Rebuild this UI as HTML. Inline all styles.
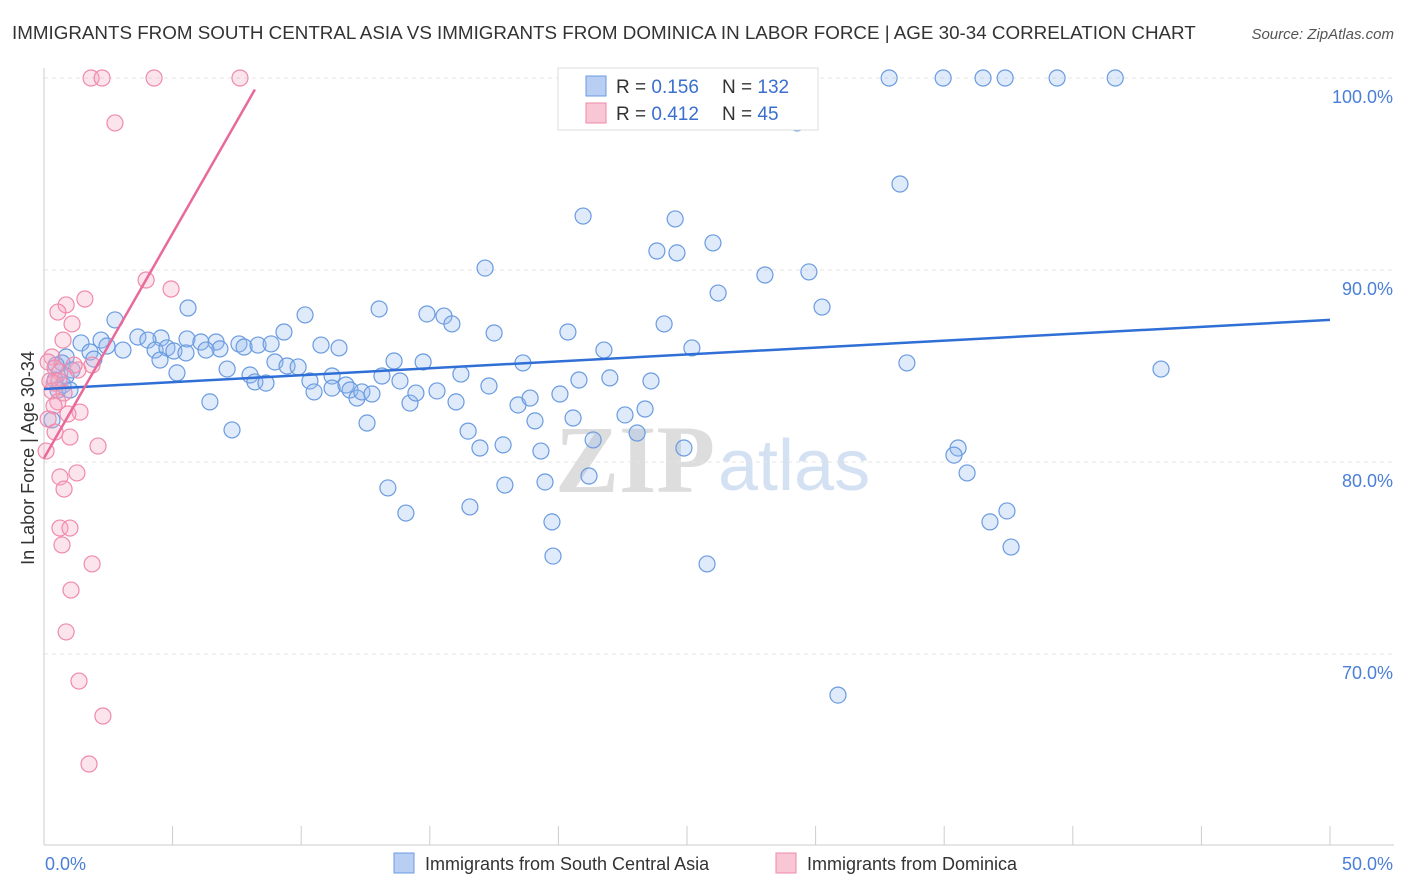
<!DOCTYPE html>
<html><head><meta charset="utf-8"><style>
body{margin:0;background:#fff;font-family:"Liberation Sans",sans-serif;}
#wrap{position:relative;width:1406px;height:892px;overflow:hidden;}
</style></head><body>
<div id="wrap">
<svg id="svg" width="1406" height="892" xmlns="http://www.w3.org/2000/svg">
<text x="12" y="39" font-size="18.8" fill="#333">IMMIGRANTS FROM SOUTH CENTRAL ASIA VS IMMIGRANTS FROM DOMINICA IN LABOR FORCE | AGE 30-34 CORRELATION CHART</text>
<text x="1394" y="39" font-size="15" fill="#555" font-style="italic" text-anchor="end">Source: ZipAtlas.com</text>
<text x="34" y="458" font-size="18" fill="#333" text-anchor="middle" transform="rotate(-90 34 458)">In Labor Force | Age 30-34</text>
<text x="555" y="492" font-size="96" fill="#ddd" font-family="Liberation Serif,serif" font-weight="bold">ZIP</text>
<text x="718" y="490" font-size="72" fill="#d4e1f3">atlas</text>
<g id="grid"></g><g id="pts"></g><g id="lines"></g>
<g>
<rect x="558" y="68" width="260" height="62" fill="#fff" stroke="#ddd"/>
<rect x="586" y="76" width="20" height="20" fill="#b8cff3" stroke="#6a9be0"/>
<rect x="586" y="103" width="20" height="20" fill="#f9c6d5" stroke="#f08aaa"/>
<text x="616" y="93" font-size="19" fill="#333">R = <tspan fill="#3a6fcf">0.156</tspan></text>
<text x="722" y="93" font-size="19" fill="#333">N = <tspan fill="#3a6fcf">132</tspan></text>
<text x="616" y="120" font-size="19" fill="#333">R = <tspan fill="#3a6fcf">0.412</tspan></text>
<text x="722" y="120" font-size="19" fill="#333">N = <tspan fill="#3a6fcf"> 45</tspan></text>
</g>
<g>
<rect x="394" y="853" width="20" height="20" fill="#b8cff3" stroke="#6a9be0"/>
<text x="425" y="870" font-size="18" fill="#333">Immigrants from South Central Asia</text>
<rect x="776" y="853" width="20" height="20" fill="#f9c6d5" stroke="#f08aaa"/>
<text x="807" y="870" font-size="18" fill="#333">Immigrants from Dominica</text>
</g>
</svg>
</div>
<script>
const xTickVals=[0,5,10,15,20,25,30,35,40,45,50];
const yTickVals=[70,80,90,100];
const blueX=[29.28,32.86,34.96,36.51,37.37,39.39,41.65,33.28,20.96,24.54,26.01,23.83,24.61,17.15,28.03,29.74,26.21,30.25,5.6,13.03,14.89,15.55,10.15,15.86,24.11,2.76,17.5,20.37,9.33,25.19,21.77,33.55,43.43,3.65,4.55,4.04,5.56,2.22,1.44,2.45,3.07,4.32,4.78,5.05,6.1,6.69,6.84,7.58,7.78,8.32,8.83,6.3,5.52,4.51,8.98,9.45,9.88,7.12,8.01,8.2,8.63,5.17,1.79,1.94,0.86,0.7,1.09,0.86,0.43,0.74,0.54,10.77,11.47,10.34,10.5,11.2,11.2,11.74,11.9,12.17,12.36,12.75,13.61,14.74,13.14,13.84,16.21,17.3,18.62,20.8,22.0,23.6,14.23,14.46,15.28,16.02,18.43,18.9,20.06,19.09,20.57,22.59,23.37,12.56,7.31,6.45,16.49,16.95,17.85,19.32,21.35,23.06,24.88,13.37,14.07,16.56,17.92,19.48,21.19,19.75,19.79,25.78,35.54,35.38,35.89,36.78,37.44,37.6,30.87,0.47,0.31,1.01];
const blueY=[97.66,100,100,100,100,100,100,94.48,92.81,92.66,91.41,90.99,90.89,90.10,89.74,89.90,88.80,88.07,88.02,87.97,87.71,87.60,87.66,87.19,87.19,87.40,86.72,86.77,86.77,85.94,85.83,85.16,84.84,86.51,86.46,86.35,86.41,86.35,86.20,86.04,85.83,85.83,85.94,85.78,86.25,86.25,85.89,86.15,85.99,86.09,86.15,85.83,85.68,85.31,85.21,85.0,84.95,84.84,84.53,84.17,84.11,84.64,85.73,85.36,85.47,85.16,84.79,84.48,84.27,84.01,83.75,86.09,85.94,84.22,83.65,84.48,83.85,84.01,83.75,83.33,83.65,83.54,85.26,85.21,84.48,84.22,84.58,83.96,85.16,84.27,84.38,84.22,83.07,83.59,83.70,83.13,82.97,83.33,83.54,82.14,82.29,82.45,82.76,82.03,81.67,83.13,81.61,80.73,80.89,80.57,81.15,81.51,80.73,78.65,77.34,77.66,78.80,78.96,79.27,76.88,75.10,74.69,80.73,80.36,79.43,76.88,77.45,75.57,67.86,85.05,82.19,83.75];
const pinkX=[1.83,2.26,4.28,7.62,2.76,3.97,4.94,1.59,0.86,0.54,1.09,0.74,0.31,0.16,0.43,0.62,1.32,0.39,0.31,0.78,0.54,0.39,1.4,0.93,0.43,1.01,2.1,1.28,0.62,0.78,0.62,1.01,0.7,1.87,1.05,0.86,1.36,2.29,1.75,0.16,0.23,0.58,1.87,1.17,0.08];
const pinkY=[100,100,100,100,97.66,89.48,89.01,88.49,88.18,87.81,87.19,86.35,85.47,85.21,84.9,84.69,84.79,84.11,83.7,83.59,83.13,82.92,82.6,82.5,81.56,81.3,80.83,79.43,79.22,78.59,76.56,76.56,75.68,74.69,73.33,71.15,68.59,66.77,64.27,82.24,84.22,84.22,85.05,85.05,80.57];
const blueLine=[[0,83.8],[50,87.4]];
const pinkLine=[[0,80.2],[8.2,99.4]];
const X=v=>44+v/50*1286, Y=v=>78+(100-v)*19.2;
const NS='http://www.w3.org/2000/svg';
function mk(t,a,p){const e=document.createElementNS(NS,t);for(const k in a)e.setAttribute(k,a[k]);p.appendChild(e);return e;}
const grid=document.getElementById('grid');
yTickVals.forEach(v=>{
 const l=mk('line',{x1:44,x2:1394,y1:Y(v),y2:Y(v),stroke:'#e4e4e4','stroke-dasharray':'4 4'},grid);
 
 
 const t=mk('text',{x:1393,y:Y(v)+25,'font-size':18,fill:'#4a7fd6','text-anchor':'end'},grid);
 t.textContent=v.toFixed(1)+'%';
 
 
});
const ax=mk('line',{x1:44,x2:1394,y1:845,y2:845,stroke:'#ccc'},grid);


const ay=mk('line',{x1:44,x2:44,y1:68,y2:845,stroke:'#ccc'},grid);


xTickVals.forEach(v=>{
 const t=mk('line',{x1:X(v),x2:X(v),y1:826,y2:845,stroke:'#ccc'},grid);
 
 
});
[[0,'start'],[50,'end']].forEach(([v,a])=>{
 const t=mk('text',{x:v?1393:45,y:870,'font-size':18,fill:'#4a7fd6','text-anchor':a},grid);
 t.textContent=v.toFixed(1)+'%';
 
 
});
const pts=document.getElementById('pts');
blueX.forEach((x,i)=>{
 const c=mk('circle',{cx:X(x),cy:Y(blueY[i]),r:8,fill:'rgba(150,185,240,0.3)',stroke:'#6a9be0','stroke-width':1.2},pts);
 
 
});
pinkX.forEach((x,i)=>{
 const c=mk('circle',{cx:X(x),cy:Y(pinkY[i]),r:8,fill:'rgba(245,165,195,0.3)',stroke:'#f08aaa','stroke-width':1.2},pts);
 
 
});
const lines=document.getElementById('lines');
const bl=mk('line',{x1:X(blueLine[0][0]),y1:Y(blueLine[0][1]),x2:X(blueLine[1][0]),y2:Y(blueLine[1][1]),stroke:'#2f6fd6','stroke-width':2.5},lines);


const pl=mk('line',{x1:X(pinkLine[0][0]),y1:Y(pinkLine[0][1]),x2:X(pinkLine[1][0]),y2:Y(pinkLine[1][1]),stroke:'#e8699a','stroke-width':2.5},lines);


</script>
</body></html>
